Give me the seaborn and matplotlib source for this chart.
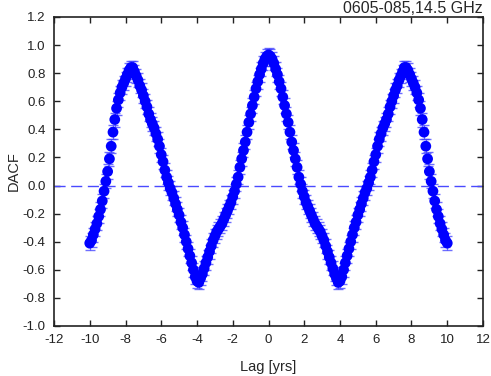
import matplotlib
matplotlib.use("Agg")
import matplotlib.pyplot as plt
import seaborn as sns
import numpy as np
import pandas as pd

# Lag values (years) and DACF values
lag = [round(-10.0 + 0.1 * i, 1) for i in range(201)]

dacf_pos = [0.93, 0.92, 0.90, 0.87, 0.83, 0.79, 0.74, 0.69, 0.63, 0.57,
            0.51, 0.45, 0.38, 0.31, 0.25, 0.19, 0.13, 0.06, 0.01, -0.04,
            -0.08, -0.12, -0.15, -0.18, -0.21, -0.24, -0.27, -0.29, -0.31, -0.33,
            -0.36, -0.39, -0.43, -0.47, -0.51, -0.55, -0.59, -0.63, -0.66, -0.69,
            -0.68, -0.65, -0.60, -0.55, -0.50, -0.45, -0.40, -0.35, -0.30, -0.26,
            -0.21, -0.17, -0.13, -0.09, -0.05, -0.02, 0.02, 0.06, 0.11, 0.17,
            0.22, 0.28, 0.33, 0.37, 0.41, 0.44, 0.47, 0.51, 0.56, 0.60,
            0.64, 0.68, 0.71, 0.75, 0.78, 0.81, 0.84, 0.84, 0.82, 0.79,
            0.76, 0.73, 0.70, 0.66, 0.61, 0.55, 0.47, 0.38, 0.28, 0.19,
            0.10, 0.03, -0.04, -0.11, -0.17, -0.22, -0.27, -0.31, -0.35, -0.39,
            -0.41]
dacf_neg = [-0.41, -0.39, -0.35, -0.31, -0.27, -0.22, -0.17, -0.11, -0.04, 0.03,
            0.10, 0.19, 0.28, 0.38, 0.47, 0.55, 0.61, 0.66, 0.70, 0.73,
            0.76, 0.79, 0.82, 0.84, 0.84, 0.81, 0.78, 0.75, 0.71, 0.68,
            0.64, 0.60, 0.56, 0.51, 0.47, 0.44, 0.41, 0.37, 0.33, 0.28,
            0.22, 0.17, 0.11, 0.06, 0.02, -0.02, -0.05, -0.09, -0.13, -0.17,
            -0.21, -0.26, -0.30, -0.35, -0.40, -0.45, -0.50, -0.55, -0.60, -0.65,
            -0.68, -0.69, -0.66, -0.63, -0.59, -0.55, -0.51, -0.47, -0.43, -0.39,
            -0.36, -0.33, -0.31, -0.29, -0.27, -0.24, -0.21, -0.18, -0.15, -0.12,
            -0.08, -0.04, 0.01, 0.06, 0.13, 0.19, 0.25, 0.31, 0.38, 0.45,
            0.51, 0.57, 0.63, 0.69, 0.74, 0.79, 0.83, 0.87, 0.90, 0.92]
dacf = dacf_neg + dacf_pos
err = 0.05

xticks = [-12, -10, -8, -6, -4, -2, 0, 2, 4, 6, 8, 10, 12]
yticks = [-1.0, -0.8, -0.6, -0.4, -0.2, 0.0, 0.2, 0.4, 0.6, 0.8, 1.0, 1.2]
title = "0605-085,14.5 GHz"

df = pd.DataFrame({"lag": lag, "dacf": dacf})

sns.set_style("ticks")
plt.rcParams['font.family'] = ['Liberation Sans', 'DejaVu Sans']

fig = plt.figure(figsize=(4.91, 3.76), dpi=100)
ax = fig.add_axes([0.110, 0.133, 0.8737, 0.8218])

ax.axhline(0, color="#4a4aff", lw=1.0, dashes=(8, 4), zorder=1)
ax.errorbar(df["lag"], df["dacf"], yerr=err, fmt="none", ecolor="#3d3dff",
            elinewidth=0.9, capsize=3.8, capthick=1.0, alpha=0.75, zorder=2)
sns.scatterplot(data=df, x="lag", y="dacf", ax=ax, color="#0000ff", s=60,
                edgecolor="none", linewidth=0, zorder=3)

ax.set_xlim(-12, 12)
ax.set_ylim(-1.0, 1.2)
ax.set_xticks(xticks)
ax.set_yticks(yticks)
ax.set_xticklabels([str(t) for t in xticks])
ax.set_yticklabels([f"{t:.1f}" for t in yticks])
ax.tick_params(direction="in", top=True, right=True, labeltop=False, labelright=False,
               length=4, width=1, colors="#222222", labelsize=9.5, pad=6)
for s in ax.spines.values():
    s.set_visible(True)
    s.set_linewidth(1.2)
    s.set_color("#222222")

ax.set_xlabel("Lag [yrs]", fontsize=10.5)
ax.set_ylabel("DACF", fontsize=10.5)
ax.xaxis.set_label_coords(0.5, -0.133)
ax.yaxis.set_label_coords(-0.095, 0.5)
ax.xaxis.label.set_va("center")
ax.yaxis.label.set_va("center")
ax.text(1.0, 1.004, title, transform=ax.transAxes, ha="right", va="bottom", fontsize=11.5)

fig.savefig("out.png", dpi=100)
